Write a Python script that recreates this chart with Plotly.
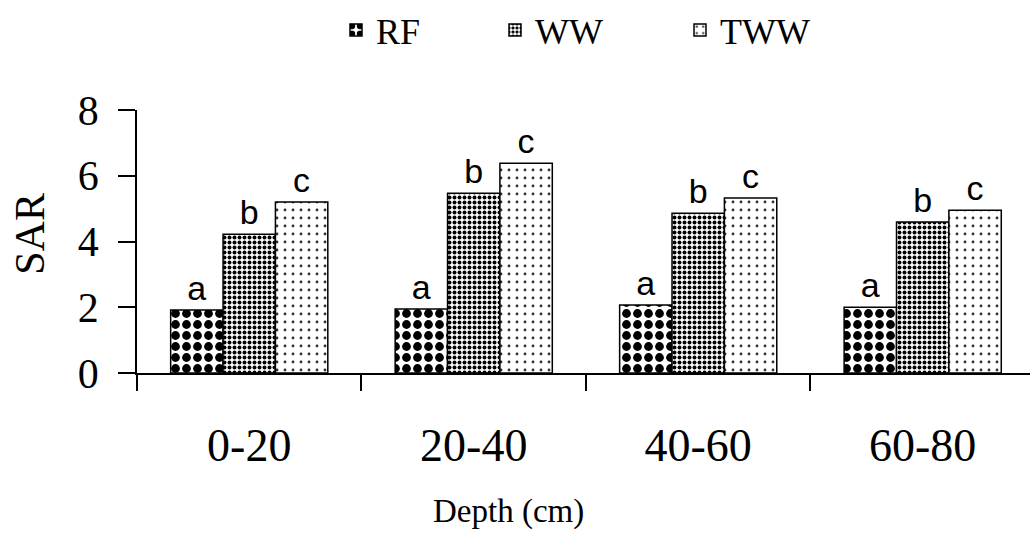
import plotly.graph_objects as go

categories = ["0-20", "20-40", "40-60", "60-80"]
series_names = ["RF", "WW", "TWW"]
rf_values = [1.92, 1.95, 2.07, 2.0]
ww_values = [4.22, 5.47, 4.86, 4.59]
tww_values = [5.2, 6.38, 5.32, 4.95]
rf_letters = ["a", "a", "a", "a"]
ww_letters = ["b", "b", "b", "b"]
tww_letters = ["c", "c", "c", "c"]
y_ticks = [0, 2, 4, 6, 8]

patterns = [
    dict(shape=".", size=11, solidity=0.5, fgcolor="black", bgcolor="white", fgopacity=1),
    dict(shape=".", size=5, solidity=0.5, fgcolor="black", bgcolor="white", fgopacity=1),
    dict(shape=".", size=8, solidity=0.1, fgcolor="#333", bgcolor="white", fgopacity=1),
]
values = [rf_values, ww_values, tww_values]
letters = [rf_letters, ww_letters, tww_letters]
legend_ids = ["legend", "legend2", "legend3"]
legend_x = [336 / 1030, 495 / 1030, 680 / 1030]

fig = go.Figure()
for i in range(3):
    fig.add_trace(go.Bar(
        x=categories, y=values[i], name=series_names[i],
        marker=dict(color="white", line=dict(color="black", width=1.5),
                    pattern=patterns[i]),
        text=letters[i], textposition="outside",
        textfont=dict(family="Liberation Sans", size=34, color="black"),
        cliponaxis=False, legend=legend_ids[i],
    ))

layout_legends = {}
for i in range(3):
    layout_legends[legend_ids[i]] = dict(
        x=legend_x[i], y=1.0, xref="container", yref="container",
        xanchor="left", yanchor="top", orientation="h",
        font=dict(family="Liberation Serif", size=36, color="black"),
        bgcolor="rgba(0,0,0,0)",
    )

fig.update_layout(
    width=1030, height=533,
    margin=dict(l=137, r=0, t=110, b=159.5),
    paper_bgcolor="white", plot_bgcolor="white",
    barmode="group", bargap=0.3, bargroupgap=0,
    font=dict(family="Liberation Serif", color="black"),
    showlegend=True,
    **layout_legends,
)
fig.update_xaxes(
    range=[-0.5, 3.478], showline=True, linecolor="black", linewidth=1.5,
    ticks="outside", tickson="boundaries", ticklen=16, tickwidth=1.5, tickcolor="black",
    tickfont=dict(family="Liberation Serif", size=46, color="black"),
    ticklabelstandoff=31, automargin=False,
    showgrid=False, zeroline=False,
)
fig.update_yaxes(
    range=[0, 8], tickvals=y_ticks, showline=True, linecolor="black", linewidth=1.5,
    ticks="outside", ticklen=17, tickwidth=1.5, tickcolor="black",
    tickfont=dict(family="Liberation Serif", size=42, color="black"),
    ticklabelstandoff=11, automargin=False,
    showgrid=False, zeroline=False,
)
fig.add_annotation(text="Depth (cm)", xref="paper", yref="paper",
                   x=(508 - 137) / 893, y=-(512 - 373.5) / 263.5,
                   xanchor="center", yanchor="middle", showarrow=False,
                   font=dict(family="Liberation Serif", size=33, color="black"))
fig.add_annotation(text="SAR", xref="paper", yref="paper",
                   x=-(137 - 30) / 893, y=(373.5 - 234) / 263.5, textangle=-90,
                   xanchor="center", yanchor="middle", showarrow=False,
                   font=dict(family="Liberation Serif", size=42, color="black"))
fig.add_shape(type="line", xref="paper", yref="y", x0=-17 / 893, x1=0, y0=0, y1=0,
              line=dict(color="black", width=1.5))
fig.write_html("out.html", config={"displayModeBar": False},
               post_script="document.body.style.margin='0px';")
